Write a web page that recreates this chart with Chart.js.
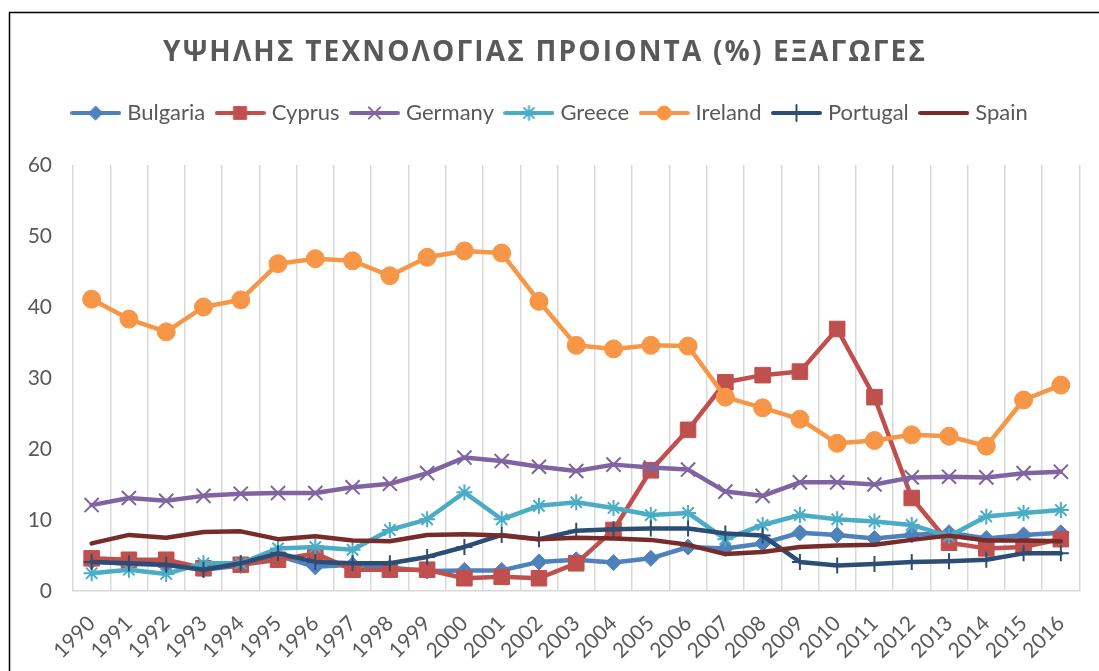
<!DOCTYPE html>
<html>
<head>
<meta charset="utf-8">
<title>ΥΨΗΛΗΣ ΤΕΧΝΟΛΟΓΙΑΣ ΠΡΟΙΟΝΤΑ (%) ΕΞΑΓΩΓΕΣ</title>
<script src="https://cdn.jsdelivr.net/npm/chart.js@4.4.1/dist/chart.umd.min.js"></script>
<style>
    html, body { margin: 0; padding: 0; background: #fff; overflow: hidden; }
    #wrap { position: relative; width: 1099px; height: 671px; }
</style>
</head>
<body>
<div id="wrap"><canvas id="chart"></canvas></div>
<script>
var chartTitle = 'ΥΨΗΛΗΣ ΤΕΧΝΟΛΟΓΙΑΣ ΠΡΟΙΟΝΤΑ (%) ΕΞΑΓΩΓΕΣ';

var years = ['1990', '1991', '1992', '1993', '1994', '1995', '1996', '1997', '1998', '1999',
    '2000', '2001', '2002', '2003', '2004', '2005', '2006', '2007', '2008', '2009',
    '2010', '2011', '2012', '2013', '2014', '2015', '2016'];

// high-tech exports, % of manufactured exports
var bulgaria = [4.2, 3.8, 3.7, 3.0, 3.6, 5.0, 3.4, 3.7, 3.3, 2.8, 2.9, 2.9, 4.1, 4.4, 4.0, 4.6, 6.2, 6.0, 6.7, 8.2, 7.9, 7.4, 7.9, 8.2, 7.4, 7.9, 8.2];
var cyprus = [4.6, 4.4, 4.4, 3.2, 3.7, 4.4, 5.3, 3.0, 3.0, 3.0, 1.8, 2.0, 1.8, 3.9, 8.6, 17.0, 22.7, 29.4, 30.4, 30.9, 36.9, 27.3, 13.1, 6.8, 6.0, 6.2, 7.3];
var germany = [12.1, 13.1, 12.7, 13.4, 13.7, 13.8, 13.8, 14.6, 15.1, 16.6, 18.8, 18.3, 17.5, 16.9, 17.8, 17.4, 17.1, 14.0, 13.4, 15.3, 15.3, 15.0, 16.0, 16.1, 16.0, 16.6, 16.8];
var greece = [2.5, 3.0, 2.4, 3.9, 3.9, 6.0, 6.2, 5.8, 8.6, 10.1, 13.9, 10.1, 12.0, 12.5, 11.7, 10.7, 11.0, 7.3, 9.3, 10.7, 10.1, 9.8, 9.3, 7.7, 10.5, 11.0, 11.4];
var ireland = [41.1, 38.3, 36.5, 40.0, 41.0, 46.1, 46.8, 46.5, 44.4, 47.0, 47.9, 47.6, 40.8, 34.6, 34.1, 34.6, 34.5, 27.3, 25.8, 24.2, 20.8, 21.2, 22.0, 21.8, 20.4, 26.9, 29.0];
var portugal = [4.1, 3.9, 3.7, 3.0, 3.9, 5.3, 4.1, 3.9, 3.9, 4.8, 6.2, 7.9, 7.3, 8.5, 8.7, 8.8, 8.8, 8.1, 7.8, 4.1, 3.6, 3.8, 4.1, 4.2, 4.4, 5.3, 5.3];
var spain = [6.7, 7.9, 7.5, 8.3, 8.4, 7.3, 7.7, 7.1, 7.0, 7.9, 8.0, 7.8, 7.3, 7.5, 7.4, 7.2, 6.5, 5.2, 5.5, 6.2, 6.4, 6.5, 7.2, 7.8, 7.1, 7.1, 7.0];

var yMin = 0;
var yMax = 60;
var yStep = 10;

var textColor = '#595959';
var gridColor = '#d9d9d9';

// small picture for the legend: a line with the marker in its middle
function legendIcon(color, style, radius, markerBorder) {
    var c = document.createElement('canvas');
    c.width = 51;
    c.height = 26;
    var ctx = c.getContext('2d');
    ctx.strokeStyle = color;
    ctx.fillStyle = color;
    ctx.lineWidth = 4;
    ctx.lineCap = 'round';
    ctx.beginPath();
    ctx.moveTo(2, 13);
    ctx.lineTo(49, 13);
    ctx.stroke();
    if (style) {
        ctx.lineWidth = markerBorder;
        Chart.helpers.drawPoint(ctx, { pointStyle: style, radius: radius, borderWidth: markerBorder, rotation: 0 }, 25.5, 13);
    }
    return c;
}

function makeSeries(label, data, color, style, radius, markerBorder, legendRadius, index) {
    return {
        label: label,
        data: data,
        borderColor: color,
        backgroundColor: color,
        borderWidth: 4.5,
        borderJoinStyle: 'round',
        borderCapStyle: 'round',
        tension: 0,
        pointStyle: style || 'circle',
        pointRadius: style ? radius : 0,
        pointBorderWidth: markerBorder,
        pointBackgroundColor: color,
        pointBorderColor: color,
        // later series drawn on top, like the spreadsheet
        order: 10 - index,
        legendIcon: legendIcon(color, style, legendRadius, markerBorder)
    };
}

var datasets = [
    makeSeries('Bulgaria', bulgaria, '#4F81BD', 'rectRot', 8, 1, 7, 0),
    makeSeries('Cyprus', cyprus, '#C0504D', 'rect', 11, 1, 9, 1),
    makeSeries('Germany', germany, '#8064A2', 'crossRot', 10, 2, 8, 2),
    makeSeries('Greece', greece, '#4BACC6', 'star', 8, 2, 7, 3),
    makeSeries('Ireland', ireland, '#F79646', 'circle', 9, 1, 7, 4),
    makeSeries('Portugal', portugal, '#2C4D75', 'cross', 8, 2, 8, 5),
    makeSeries('Spain', spain, '#772C2A', null, 0, 1, 0, 6)
];

// white page with the black frame round the chart
var framePlugin = {
    id: 'frame',
    beforeDraw: function (chart) {
        var ctx = chart.ctx;
        ctx.save();
        ctx.fillStyle = '#ffffff';
        ctx.fillRect(0, 0, chart.width, chart.height);
        ctx.strokeStyle = '#000000';
        ctx.lineWidth = 1.5;
        ctx.strokeRect(9.5, 12.5, chart.width + 40, chart.height + 40);
        ctx.restore();
    }
};

// spaced-out bold title
var titlePlugin = {
    id: 'spacedTitle',
    afterDraw: function (chart) {
        var ctx = chart.ctx;
        ctx.save();
        ctx.font = 'bold 28px "Open Sans"';
        ctx.fillStyle = textColor;
        ctx.textBaseline = 'middle';
        ctx.textAlign = 'left';
        ctx.letterSpacing = '0px';
        var plain = ctx.measureText(chartTitle).width;
        var spacing = (762 - plain) / (chartTitle.length - 1);
        ctx.letterSpacing = spacing + 'px';
        ctx.fillText(chartTitle, 163, 53);
        ctx.restore();
    }
};

new Chart(document.getElementById('chart'), {
    type: 'line',
    data: {
        labels: years,
        datasets: datasets
    },
    plugins: [framePlugin, titlePlugin],
    options: {
        responsive: true,
        maintainAspectRatio: false,
        animation: false,
        layout: {
            padding: { top: 87.5, left: 22, right: 18, bottom: 0 }
        },
        plugins: {
            legend: {
                align: 'center',
                labels: {
                    usePointStyle: true,
                    pointStyleWidth: 41,
                    padding: 14.5,
                    color: textColor,
                    font: { family: 'Lato', size: 22 },
                    sort: function (a, b) { return a.datasetIndex - b.datasetIndex; },
                    generateLabels: function (chart) {
                        var items = Chart.defaults.plugins.legend.labels.generateLabels(chart);
                        items.forEach(function (item) {
                            item.pointStyle = chart.data.datasets[item.datasetIndex].legendIcon;
                        });
                        return items;
                    }
                }
            },
            // empty spacer between the legend and the plot
            subtitle: {
                display: true,
                text: '',
                weight: 500,
                font: { size: 10, lineHeight: 1 },
                padding: { top: 0, bottom: 21 }
            },
            tooltip: { enabled: false }
        },
        scales: {
            x: {
                offset: true,
                grid: { offset: true, color: gridColor, lineWidth: 1.5, drawTicks: false },
                border: { color: gridColor, width: 1.5 },
                ticks: {
                    color: textColor,
                    font: { family: 'Lato', size: 21 },
                    minRotation: 45,
                    maxRotation: 45,
                    autoSkip: false,
                    padding: 20
                },
                afterFit: function (scale) { scale.height = 80; }
            },
            y: {
                min: yMin,
                max: yMax,
                grid: { display: false, drawTicks: false },
                border: { display: false },
                ticks: {
                    stepSize: yStep,
                    color: textColor,
                    font: { family: 'Lato', size: 21 },
                    padding: 21
                },
                afterFit: function (scale) { scale.width = 51; }
            }
        }
    }
});
</script>
</body>
</html>
